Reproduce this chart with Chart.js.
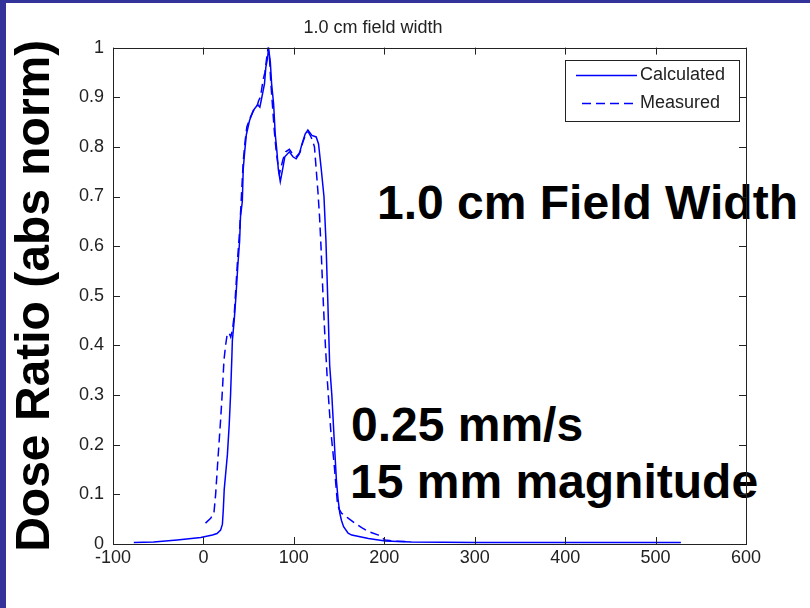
<!DOCTYPE html>
<html>
<head>
<meta charset="utf-8">
<script src="https://cdn.jsdelivr.net/npm/chart.js@4.4.0/dist/chart.umd.min.js"></script>
<style>
  html, body { margin: 0; padding: 0; background: #fff; }
  body { width: 810px; height: 608px; position: relative; overflow: hidden; font-family: "Liberation Sans", Arial, sans-serif; }
  .bar-left { position: absolute; left: 0; top: 0; width: 6px; height: 608px; background: #333399; z-index: 3; }
  .bar-top { position: absolute; left: 0; top: 0; width: 810px; height: 3px; background: #333399; z-index: 3; }
  .note { position: absolute; font-weight: bold; font-size: 48px; line-height: 1; color: #000; white-space: nowrap; z-index: 1; }
  #wrap { position: absolute; left: 0; top: 0; width: 810px; height: 608px; z-index: 2; }
  #myChart { display: block; }
</style>
</head>
<body>
<div class="bar-top"></div>
<div class="bar-left"></div>
<div class="note" style="left:377px; top:179px;">1.0 cm Field Width</div>
<div class="note" style="left:351px; top:401px;">0.25 mm/s</div>
<div class="note" style="left:350px; top:458px;">15 mm magnitude</div>
<div id="wrap"><canvas id="myChart" width="810" height="608"></canvas></div>
<script>
// position along the scan (x) and dose ratio (y)
var calcX = [-77, -55, -29, -3, 10, 15, 19, 21, 22, 23,
  25, 26.5, 28.5, 30, 31.5, 32, 34, 36, 38, 40,
  41, 43, 44, 45.6, 47.5, 51, 55, 60, 62.4, 64.6,
  67.5, 69, 71, 72, 73, 74, 75.4, 77.6, 79.4, 81.3,
  82.8, 85, 87.6, 90, 95, 99, 102.5, 106, 109, 112.5,
  115.5, 120, 124.7, 127.3, 130.3, 133.3, 135.5, 137.7, 139.6, 142,
  145.2, 147, 148.9, 150.8, 152.6, 155, 160, 164, 182.5, 201,
  230, 300, 400, 528];
var calcY = [0.003, 0.004, 0.008, 0.013, 0.018, 0.021, 0.028, 0.04, 0.07, 0.11,
  0.15, 0.18, 0.24, 0.30, 0.38, 0.41, 0.45, 0.50, 0.56, 0.61,
  0.66, 0.69, 0.755, 0.79, 0.825, 0.853, 0.873, 0.885, 0.88, 0.90,
  0.927, 0.96, 0.98, 1.0, 0.985, 0.97, 0.927, 0.887, 0.826, 0.79,
  0.755, 0.73, 0.755, 0.78, 0.79, 0.78, 0.776, 0.786, 0.806, 0.826,
  0.834, 0.823, 0.82, 0.806, 0.755, 0.70, 0.61, 0.48, 0.36, 0.30,
  0.19, 0.13, 0.09, 0.062, 0.048, 0.035, 0.022, 0.018, 0.011, 0.006,
  0.004, 0.003, 0.003, 0.003];

var measX = [2.3, 8, 11.6, 13.5, 16, 19, 21, 22.7, 24.5, 26.4,
  28.5, 30.2, 32, 34, 36, 38, 40, 42, 44, 46,
  48, 52, 56, 59, 61, 63, 66, 68, 70, 71.5,
  73, 74.5, 76.5, 78.5, 80.5, 82, 84, 86, 88, 91,
  95, 99, 103, 107, 110, 113, 116, 119, 121, 122.8,
  124.7, 126.6, 128.4, 130, 132.3, 134, 137, 140.8, 144.5, 148.2,
  150, 152.7, 160, 167.5, 175, 182.5, 193.6, 198, 201, 210,
  225];
var measY = [0.042, 0.052, 0.062, 0.10, 0.17, 0.25, 0.31, 0.37, 0.40, 0.424,
  0.425, 0.417, 0.43, 0.46, 0.52, 0.58, 0.63, 0.70, 0.77, 0.81,
  0.84, 0.86, 0.875, 0.88, 0.893, 0.90, 0.935, 0.95, 0.98, 1.0,
  0.98, 0.93, 0.88, 0.83, 0.79, 0.77, 0.745, 0.76, 0.775, 0.79,
  0.795, 0.785, 0.78, 0.79, 0.81, 0.825, 0.83, 0.82, 0.81, 0.80,
  0.755, 0.71, 0.66, 0.60, 0.498, 0.43, 0.33, 0.229, 0.162, 0.082,
  0.07, 0.062, 0.052, 0.042, 0.033, 0.025, 0.018, 0.012, 0.008, 0.006,
  0.005];

var xTicks = [-100, 0, 100, 200, 300, 400, 500, 600];
var yTicks = [0, 0.1, 0.2, 0.3, 0.4, 0.5, 0.6, 0.7, 0.8, 0.9, 1];
var yTickLabels = ['0', '0.1', '0.2', '0.3', '0.4', '0.5', '0.6', '0.7', '0.8', '0.9', '1'];

function toPoints(xs, ys) {
  var pts = [];
  for (var i = 0; i < xs.length; i++) {
    pts.push({x: xs[i], y: ys[i]});
  }
  return pts;
}

// matlab style box, inward ticks and the legend inside the axes
var matlabBox = {
  id: 'matlabBox',
  afterDatasetsDraw: function(chart) {
    var ctx = chart.ctx;
    var a = chart.chartArea;
    var xs = chart.scales.x, ys = chart.scales.y;
    var tl = 7;
    ctx.save();
    ctx.strokeStyle = '#222';
    ctx.lineWidth = 1;
    ctx.strokeRect(Math.round(a.left) + 0.5, Math.round(a.top) + 0.5,
      Math.round(a.right - a.left), Math.round(a.bottom - a.top));
    ctx.beginPath();
    xs.ticks.forEach(function(t) {
      var px = Math.round(xs.getPixelForValue(t.value)) + 0.5;
      ctx.moveTo(px, a.bottom); ctx.lineTo(px, a.bottom - tl);
      ctx.moveTo(px, a.top); ctx.lineTo(px, a.top + tl);
    });
    ys.ticks.forEach(function(t) {
      var py = Math.round(ys.getPixelForValue(t.value)) + 0.5;
      ctx.moveTo(a.left, py); ctx.lineTo(a.left + tl, py);
      ctx.moveTo(a.right, py); ctx.lineTo(a.right - tl, py);
    });
    ctx.stroke();

    // legend
    var bx = Math.round(a.right) - 181, by = Math.round(a.top) + 12;
    ctx.fillStyle = '#fff';
    ctx.fillRect(bx, by, 174, 61);
    ctx.strokeStyle = '#222';
    ctx.strokeRect(bx + 0.5, by + 0.5, 174, 61);
    ctx.font = '18px "Liberation Sans", Arial, sans-serif';
    ctx.textBaseline = 'middle';
    chart.data.datasets.forEach(function(ds, i) {
      var ly = by + 15 + i * 28 + 0.5;
      ctx.strokeStyle = ds.borderColor;
      ctx.lineWidth = ds.borderWidth;
      ctx.setLineDash(ds.borderDash || []);
      ctx.beginPath();
      ctx.moveTo(bx + (i ? 17 : 11), ly);
      ctx.lineTo(bx + 72, ly);
      ctx.stroke();
      ctx.setLineDash([]);
      ctx.fillStyle = '#222';
      ctx.fillText(ds.label, bx + 75, ly);
    });
    ctx.restore();
  }
};

Chart.defaults.font.family = '"Liberation Sans", Arial, sans-serif';
Chart.defaults.font.size = 18;
Chart.defaults.color = '#222';

var ctx = document.getElementById('myChart');
var chart = new Chart(ctx, {
  type: 'scatter',
  data: {
    datasets: [
      {
        label: 'Calculated',
        data: toPoints(calcX, calcY),
        showLine: true,
        borderColor: '#0000ff',
        borderWidth: 1.5,
        pointRadius: 0,
        tension: 0
      },
      {
        label: 'Measured',
        data: toPoints(measX, measY),
        showLine: true,
        borderColor: '#0000ff',
        borderWidth: 1.5,
        borderDash: [9, 5],
        pointRadius: 0,
        tension: 0
      }
    ]
  },
  options: {
    responsive: false,
    animation: false,
    devicePixelRatio: 1,
    layout: { padding: { left: 0, right: 64, top: 0, bottom: 0 } },
    plugins: {
      legend: { display: false },
      tooltip: { enabled: false },
      title: {
        display: true,
        text: '1.0 cm field width',
        font: { size: 18, weight: 'normal' },
        color: '#222',
        padding: { top: 17, bottom: 9 }
      }
    },
    scales: {
      x: {
        type: 'linear',
        min: -100,
        max: 600,
        afterBuildTicks: function(s) { s.ticks = xTicks.map(function(v) { return {value: v}; }); },
        afterFit: function(s) { s.height = 64; },
        grid: { display: false, drawTicks: false },
        border: { display: false },
        ticks: { padding: 3, maxRotation: 0, autoSkip: false }
      },
      y: {
        type: 'linear',
        min: 0,
        max: 1,
        afterBuildTicks: function(s) { s.ticks = yTicks.map(function(v) { return {value: v}; }); },
        afterFit: function(s) { s.width = 113; },
        grid: { display: false, drawTicks: false },
        border: { display: false },
        ticks: {
          padding: 9,
          autoSkip: false,
          callback: function(v, i) { return yTickLabels[i]; }
        },
        title: {
          display: true,
          text: 'Dose Ratio (abs norm)',
          color: '#000',
          font: { size: 48, weight: 'bold' },
          padding: { top: 7, bottom: 0 }
        }
      }
    }
  },
  plugins: [matlabBox]
});
</script>
</body>
</html>
